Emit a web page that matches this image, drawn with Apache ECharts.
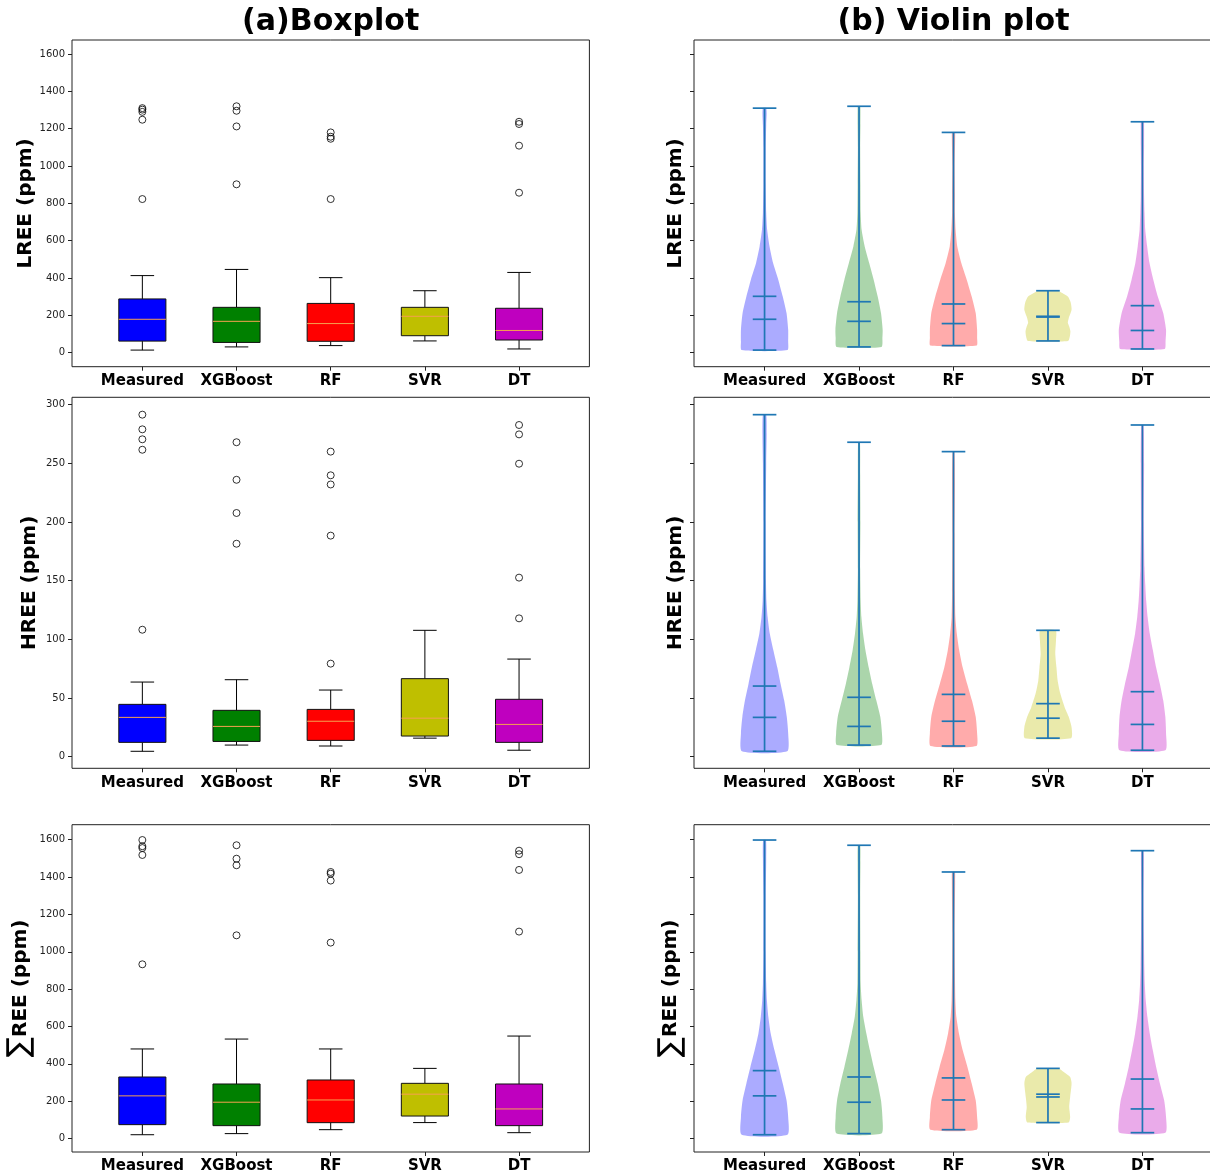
<!DOCTYPE html>
<html><head><meta charset="utf-8">
<script src="https://cdn.jsdelivr.net/npm/echarts@6/dist/echarts.min.js"></script>
<style>html,body{margin:0;padding:0;background:#fff}#c{width:1210px;height:1176px}</style>
</head><body><div id="c"></div>
<script>
// ---------------- DATA ----------------
const categories = ['Measured', 'XGBoost', 'RF', 'SVR', 'DT'];
const yTicksLREE = [0, 200, 400, 600, 800, 1000, 1200, 1400, 1600];
const yTicksHREE = [0, 50, 100, 150, 200, 250, 300];
const yTicksSum = [0, 200, 400, 600, 800, 1000, 1200, 1400, 1600];

// box stats: [min (lower whisker), q1, median, q3, upper whisker]
const lreeBox = [[14, 62, 179, 288, 413], [31, 55, 168, 243, 446], [38, 61, 156, 264, 402], [63, 91, 195, 243, 332], [20, 68, 119, 238, 430]];
const lreeOutliers = [[1310, 1302, 1290, 1248, 823], [1320, 1296, 1212, 902], [1180, 1157, 1146, 823], [], [1237, 1225, 1109, 857]];
const lreeMean = [302, 273, 261, 191, 252];
const lreeDensity = [
  [[14,0.97],[60,1.0],[123,1.0],[212,0.93],[301,0.77],[391,0.58],[480,0.36],[569,0.21],[658,0.11],[750,0.07],[900,0.05],[1100,0.05],[1220,0.07],[1280,0.09],[1310,0.07]],
  [[31,0.95],[80,0.99],[123,1.0],[212,0.93],[301,0.79],[391,0.62],[480,0.43],[569,0.24],[658,0.11],[750,0.07],[900,0.06],[1100,0.05],[1220,0.06],[1300,0.06],[1320,0.05]],
  [[38,0.98],[80,1.0],[123,1.0],[212,0.94],[301,0.77],[391,0.56],[480,0.33],[569,0.16],[658,0.09],[750,0.06],[850,0.06],[1000,0.05],[1150,0.07],[1180,0.06]],
  [[63,0.85],[90,0.93],[115,0.95],[140,0.9],[160,0.84],[185,0.88],[230,1.0],[270,0.96],[300,0.85],[320,0.6],[332,0.42]],
  [[20,0.94],[60,0.98],[123,1.0],[212,0.88],[301,0.65],[391,0.46],[480,0.30],[569,0.2],[658,0.12],[750,0.09],[840,0.07],[1000,0.06],[1110,0.07],[1200,0.07],[1237,0.06]]
];

const hreeBox = [[4.6, 12.2, 33.5, 44.6, 63.6], [9.9, 13, 25.8, 39.5, 65.6], [9.1, 13.9, 30.2, 40.3, 56.8], [15.8, 17.6, 32.8, 66.5, 107.7], [5.5, 12.2, 27.5, 48.9, 83.2]];
const hreeOutliers = [[291.5, 279, 270.5, 261.6, 108.2], [268, 236, 207.7, 181.5], [260, 239.8, 232, 188.4, 79.3], [], [282.7, 274.7, 249.7, 152.6, 117.9]];
const hreeMean = [60.2, 50.6, 53.1, 45.2, 55.4];
const hreeDensity = [
  [[4.6,0.96],[20,1.0],[34,0.94],[48,0.83],[62,0.68],[76,0.54],[91,0.37],[105,0.22],[119,0.13],[133,0.08],[150,0.06],[200,0.05],[250,0.07],[275,0.09],[291.5,0.07]],
  [[9.9,0.94],[20,0.97],[34,0.9],[48,0.73],[62,0.56],[76,0.41],[91,0.27],[105,0.17],[119,0.1],[133,0.07],[160,0.05],[200,0.06],[240,0.05],[268,0.04]],
  [[9.1,0.97],[20,1.0],[34,0.94],[48,0.78],[62,0.58],[76,0.39],[91,0.24],[105,0.14],[119,0.08],[140,0.06],[190,0.05],[235,0.06],[260,0.04]],
  [[15.8,0.98],[25,1.0],[34,0.88],[42,0.71],[54,0.52],[65,0.41],[76,0.36],[88,0.31],[99,0.34],[107.7,0.33]],
  [[5.5,0.97],[20,1.0],[34,0.97],[48,0.88],[62,0.74],[76,0.58],[91,0.44],[105,0.31],[119,0.22],[133,0.16],[147,0.12],[161,0.09],[200,0.06],[250,0.07],[282.7,0.05]]
];

const sumBox = [[21, 75, 229, 330, 480], [27, 69.6, 195, 292.5, 533], [48, 85.6, 207, 314, 480], [86, 121, 238, 296, 376], [32, 69.6, 159, 292.5, 549]];
const sumOutliers = [[1598, 1565, 1555, 1518, 933], [1570, 1498, 1463, 1088], [1427, 1418, 1381, 1049], [], [1541, 1522, 1438, 1108]];
const sumMean = [364, 330, 325, 223, 319];
const sumDensity = [
  [[21,0.97],[116,1.0],[205,0.93],[295,0.77],[384,0.6],[473,0.42],[563,0.26],[652,0.16],[741,0.1],[830,0.07],[1000,0.05],[1300,0.05],[1500,0.07],[1598,0.06]],
  [[27,0.95],[116,0.99],[205,0.93],[295,0.79],[384,0.62],[473,0.46],[563,0.31],[652,0.18],[741,0.11],[830,0.07],[1000,0.06],[1300,0.05],[1480,0.06],[1570,0.05]],
  [[48,0.98],[116,1.0],[205,0.94],[295,0.77],[384,0.59],[473,0.39],[563,0.23],[652,0.12],[741,0.08],[900,0.06],[1100,0.05],[1380,0.07],[1427,0.06]],
  [[86,0.87],[116,0.94],[170,0.9],[223,0.94],[295,1.0],[330,0.94],[357,0.67],[376,0.45]],
  [[32,0.97],[116,1.0],[205,0.92],[295,0.74],[384,0.58],[473,0.44],[563,0.31],[652,0.21],[741,0.14],[830,0.1],[920,0.08],[1100,0.06],[1300,0.05],[1450,0.06],[1541,0.05]]
];

// ---------------- STYLE / LAYOUT ----------------
const FONT = 'DejaVu Sans';
const boxColors = ['#0000ff', '#008000', '#ff0000', '#bfbf00', '#bf00bf'];
const violinFills = ['rgba(0,0,255,0.33)', 'rgba(0,128,0,0.33)', 'rgba(255,0,0,0.33)', 'rgba(191,191,0,0.33)', 'rgba(191,0,191,0.33)'];
const violinLine = '#1f77b4';
const medianColor = '#f5a050';
const XLIM = [0.253, 5.747];
const cols = [{left: 72, width: 517.4}, {left: 694, width: 519}];
const rows = [
  {top: 40, height: 326.7, min: -75, max: 1675, ticks: yTicksLREE, name: 'LREE (ppm)', box: lreeBox, out: lreeOutliers, mean: lreeMean, dens: lreeDensity},
  {top: 397.3, height: 371, min: -9.9, max: 306.3, ticks: yTicksHREE, name: 'HREE (ppm)', box: hreeBox, out: hreeOutliers, mean: hreeMean, dens: hreeDensity},
  {top: 824.7, height: 327.3, min: -71.4, max: 1680, ticks: yTicksSum, name: '{s|∑}REE (ppm)', box: sumBox, out: sumOutliers, mean: sumMean, dens: sumDensity}
];

function boxRender(params, api) {
  const i = api.value(0);
  const band = api.size([1, 0])[0];
  const c = api.coord([i, 0])[0];
  const y = k => api.coord([i, api.value(k)])[1];
  const yLo = y(1), yQ1 = y(2), yMed = y(3), yQ3 = y(4), yHi = y(5);
  const bw = band * 0.25, cw = band * 0.125;
  const line = (x1, y1, x2, y2, color) => ({type: 'line', shape: {x1, y1, x2, y2}, style: {stroke: color, lineWidth: 1}});
  return {type: 'group', children: [
    line(c, yQ3, c, yHi, '#000'), line(c, yLo, c, yQ1, '#000'),
    line(c - cw, yHi, c + cw, yHi, '#000'), line(c - cw, yLo, c + cw, yLo, '#000'),
    {type: 'rect', shape: {x: c - bw, y: yQ3, width: 2 * bw, height: yQ1 - yQ3}, style: {fill: boxColors[i], stroke: '#111', lineWidth: 1}},
    line(c - bw, yMed, c + bw, yMed, medianColor)
  ]};
}

function makeViolinRender(row) {
  return function (params, api) {
    const i = api.value(0);
    const band = api.size([1, 0])[0];
    const c = api.coord([i, 0])[0];
    const hw = band * 0.25;
    const prof = row.dens[i];
    const yy = v => api.coord([i, v])[1];
    const right = prof.map(p => [c + p[1] * hw, yy(p[0])]);
    const left = prof.slice().reverse().map(p => [c - p[1] * hw, yy(p[0])]);
    const lw = band * 0.125;
    const st = row.box[i];
    const vmin = st[0];
    const vmax = Math.max(st[4], ...row.out[i]);
    const line = (x1, y1, x2, y2) => ({type: 'line', shape: {x1, y1, x2, y2}, style: {stroke: violinLine, lineWidth: 1.7}});
    return {type: 'group', children: [
      {type: 'polygon', shape: {points: right.concat(left), smooth: 0.2}, style: {fill: violinFills[i], stroke: null}},
      line(c, yy(vmin), c, yy(vmax)),
      line(c - lw, yy(vmin), c + lw, yy(vmin)),
      line(c - lw, yy(vmax), c + lw, yy(vmax)),
      line(c - lw, yy(row.mean[i]), c + lw, yy(row.mean[i])),
      line(c - lw, yy(st[2]), c + lw, yy(st[2]))
    ]};
  };
}

const grids = [], xAxes = [], yAxes = [], series = [];
rows.forEach((row, r) => {
  cols.forEach((col, ci) => {
    const unit = col.width / (XLIM[1] - XLIM[0]);
    const gOuter = grids.length;
    grids.push({left: col.left, top: row.top, width: col.width, height: row.height, show: true,
      borderColor: '#222', borderWidth: 1, backgroundColor: 'transparent', containLabel: false, outerBoundsMode: 'none'});
    xAxes.push({gridIndex: gOuter, type: 'value', min: 0, max: 1, show: false});
    yAxes.push({gridIndex: gOuter, type: 'value', min: row.min, max: row.max,
      axisLine: {show: false, onZero: false}, splitLine: {show: false},
      axisTick: {show: true, length: 4, customValues: row.ticks, lineStyle: {color: '#222', width: 1}},
      axisLabel: {show: ci === 0, customValues: row.ticks, formatter: v => String(v), fontSize: 10, color: '#222', margin: 7, fontFamily: FONT},
      name: row.name, nameLocation: 'middle', nameGap: ci === 0 ? 32 : 8,
      nameTextStyle: {fontSize: 20, fontWeight: 'bold', fontFamily: FONT, color: '#000',
        rich: {s: {fontSize: 30, fontWeight: 'normal', fontFamily: FONT, color: '#000'}}}
    });
    const gInner = grids.length;
    grids.push({left: col.left + (0.5 - XLIM[0]) * unit, top: row.top, width: 5 * unit, height: row.height,
      show: false, containLabel: false, outerBoundsMode: 'none'});
    xAxes.push({gridIndex: gInner, type: 'category', data: categories, boundaryGap: true,
      axisLine: {show: false, onZero: false}, splitLine: {show: false},
      axisTick: {show: true, alignWithLabel: true, length: 4, lineStyle: {color: '#222', width: 1}},
      axisLabel: {interval: 0, fontSize: 15, fontWeight: 'bold', color: '#000', margin: 7, fontFamily: FONT}});
    yAxes.push({gridIndex: gInner, type: 'value', min: row.min, max: row.max, show: false});
    if (ci === 0) {
      series.push({type: 'custom', xAxisIndex: gInner, yAxisIndex: gInner, renderItem: boxRender,
        data: row.box.map((s, i) => [i, ...s]), silent: true});
      const pts = [];
      row.out.forEach((arr, i) => arr.forEach(v => pts.push([i, v])));
      series.push({type: 'scatter', xAxisIndex: gInner, yAxisIndex: gInner, data: pts, symbol: 'circle', symbolSize: 7,
        itemStyle: {color: 'rgba(0,0,0,0)', borderColor: '#000', borderWidth: 1}, z: 5, silent: true});
    } else {
      series.push({type: 'custom', xAxisIndex: gInner, yAxisIndex: gInner, renderItem: makeViolinRender(row),
        data: categories.map((_, i) => [i]), silent: true});
    }
  });
});

const chart = echarts.init(document.getElementById('c'), null, {renderer: 'canvas'});
chart.setOption({
  animation: false,
  backgroundColor: '#fff',
  textStyle: {fontFamily: FONT},
  title: [
    {text: '(a)Boxplot', left: cols[0].left + cols[0].width / 2, top: 7, textAlign: 'center', padding: 0,
      textStyle: {fontSize: 30, fontWeight: 'bold', fontFamily: FONT, color: '#000'}},
    {text: '(b) Violin plot', left: cols[1].left + 259.5, top: 7, textAlign: 'center', padding: 0,
      textStyle: {fontSize: 30, fontWeight: 'bold', fontFamily: FONT, color: '#000'}}
  ],
  grid: grids, xAxis: xAxes, yAxis: yAxes, series: series
});
</script>
</body></html>
